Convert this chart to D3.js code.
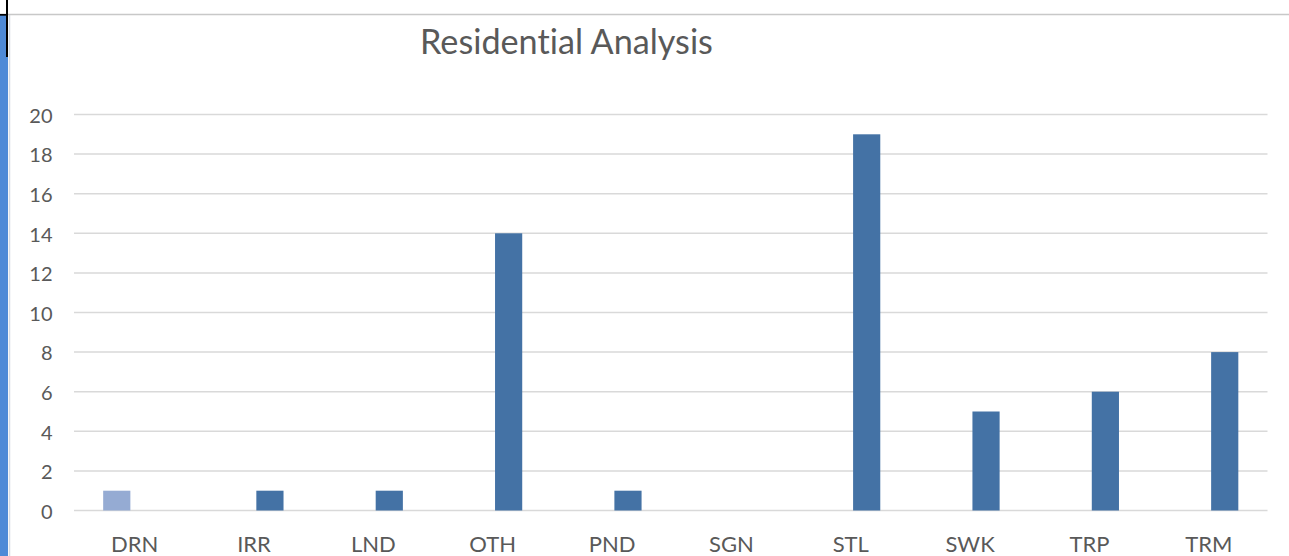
<!DOCTYPE html>
<html>
<head>
<meta charset="utf-8">
<script src="https://cdn.jsdelivr.net/npm/d3@7/dist/d3.min.js"></script>
<style>
  html, body { margin: 0; padding: 0; background: #fff; }
  svg { display: block; }
  text { font-family: Lato, "Open Sans", sans-serif; fill: #595959; font-variant-ligatures: none; font-feature-settings: "liga" 0; }
</style>
</head>
<body>
<svg id="chart" width="1289" height="556"></svg>
<script>
const title = "Residential Analysis";
const categories = ["DRN", "IRR", "LND", "OTH", "PND", "SGN", "STL", "SWK", "TRP", "TRM"];
const seriesNames = ["Series1", "Series2"];
const series1 = [1, 0, 0, 0, 0, 0, 0, 0, 0, 0];
const series2 = [0, 1, 1, 14, 1, 0, 19, 5, 6, 8];
const yTicks = [0, 2, 4, 6, 8, 10, 12, 14, 16, 18, 20];
const seriesColors = ["#95abd3", "#4472a5"];

const svg = d3.select("#chart");
const W = 1289, H = 556;
const plot = { left: 74, right: 1267.5, top: 114.5, bottom: 510.5 };

// window chrome fragments at the left/top edges
svg.append("rect").attr("x", 0).attr("y", 15).attr("width", 8).attr("height", H - 15).attr("fill", "#4e8ad7");
svg.append("line").attr("x1", 9.5).attr("x2", 9.5).attr("y1", 15).attr("y2", H).attr("stroke", "#d6dce4").attr("stroke-width", 1.5);
svg.append("line").attr("x1", 8).attr("x2", W).attr("y1", 14.5).attr("y2", 14.5).attr("stroke", "#c8c8c8").attr("stroke-width", 1.6);
svg.append("line").attr("x1", 0).attr("x2", 8).attr("y1", 14.8).attr("y2", 14.8).attr("stroke", "#000").attr("stroke-width", 1.8);
svg.append("line").attr("x1", 7).attr("x2", 7).attr("y1", 0).attr("y2", 57).attr("stroke", "#000").attr("stroke-width", 2);

const x0 = d3.scaleBand().domain(categories).range([plot.left, plot.right]);
const x1 = d3.scaleBand().domain(seriesNames).range([0, x0.bandwidth()])
  .paddingInner(0.196).paddingOuter(0.863);
const y = d3.scaleLinear().domain([0, 20]).range([plot.bottom, plot.top]);

// gridlines
svg.append("g").selectAll("line").data(yTicks).join("line")
  .attr("x1", plot.left).attr("x2", plot.right)
  .attr("y1", d => y(d)).attr("y2", d => y(d))
  .attr("stroke", "#d9d9d9").attr("stroke-width", 1.5);

// y tick labels
svg.append("g").selectAll("text").data(yTicks).join("text")
  .attr("x", 52.5).attr("y", d => y(d) + 8.3)
  .attr("text-anchor", "end")
  .attr("font-size", 20)
  .text(d => d);

// bars
const rows = categories.map((c, i) => ({ cat: c, vals: [series1[i], series2[i]] }));
const gBars = svg.append("g");
rows.forEach(r => {
  r.vals.forEach((v, si) => {
    if (v <= 0) return;
    gBars.append("rect")
      .attr("x", x0(r.cat) + x1(seriesNames[si]))
      .attr("y", y(v))
      .attr("width", x1.bandwidth())
      .attr("height", y(0) - y(v))
      .attr("fill", seriesColors[si]);
  });
});

// category labels
svg.append("g").selectAll("text").data(categories).join("text")
  .attr("x", d => x0(d) + x0.bandwidth() / 2 + 1)
  .attr("y", 551.5)
  .attr("text-anchor", "middle")
  .attr("font-size", 22)
  .text(d => d);

// title
const t = svg.append("text")
  .attr("x", 566.5).attr("y", 53.5)
  .attr("text-anchor", "middle")
  .attr("font-size", 30)
  .text(title);
const len = t.node().getComputedTextLength();
t.attr("font-size", 30 * 293 / len);
</script>
</body>
</html>
